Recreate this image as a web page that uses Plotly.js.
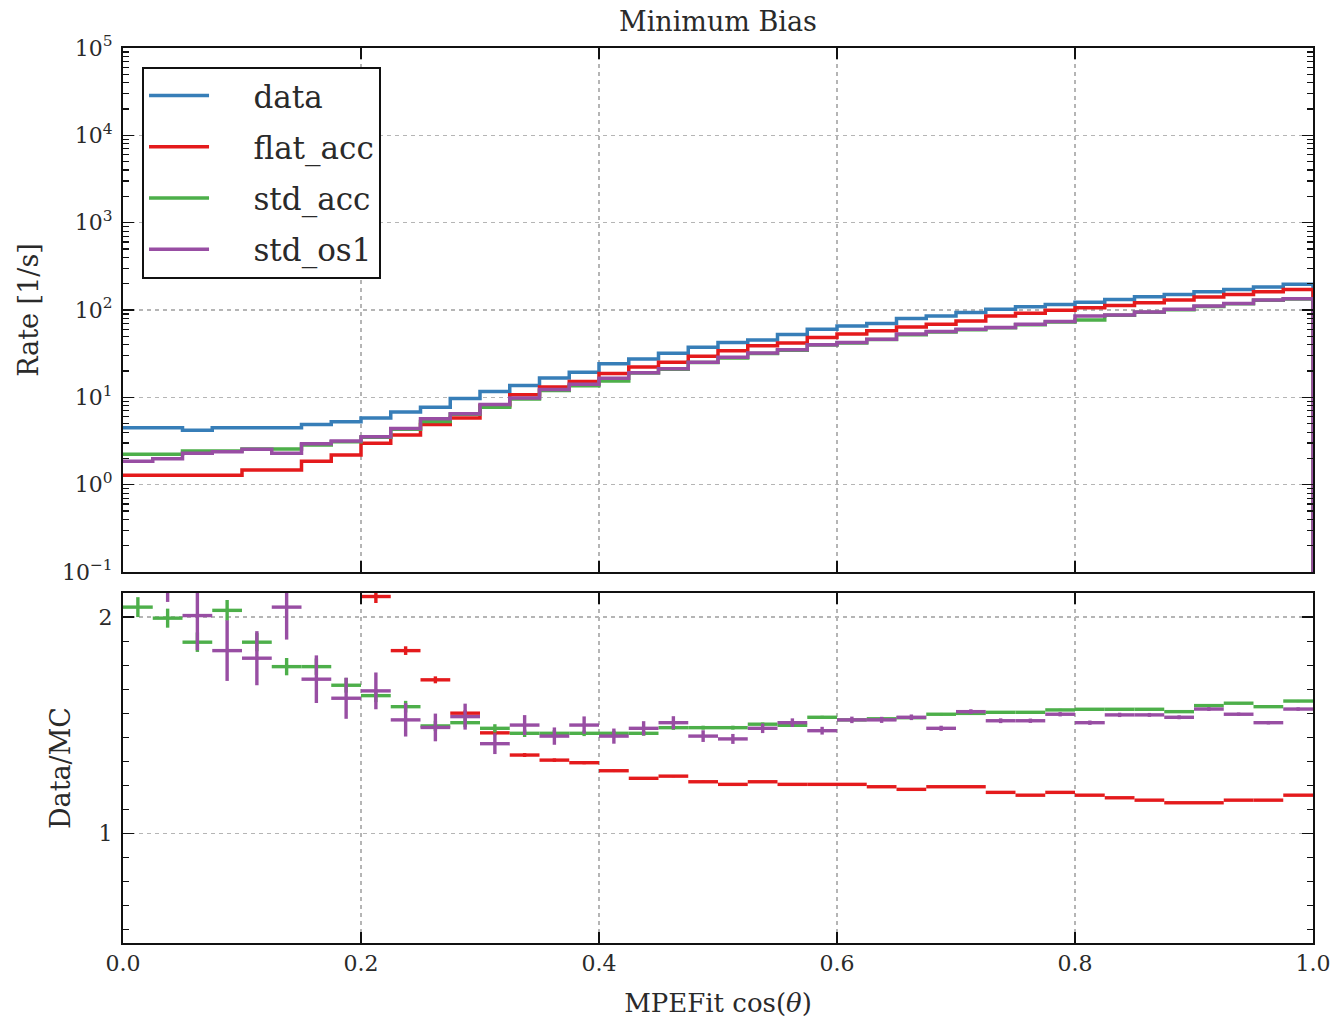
<!DOCTYPE html>
<html>
<head>
<meta charset="utf-8">
<script src="https://cdn.plot.ly/plotly-3.0.1.min.js"></script>
<style>
  html, body { margin: 0; padding: 0; background: #ffffff; }
  #chart { width: 1338px; height: 1024px; }
</style>
</head>
<body>
<div id="chart"></div>
<script>
// ---- data ----
const binEdges = [0.000,0.025,0.050,0.075,0.100,0.125,0.150,0.175,0.200,0.225,
                  0.250,0.275,0.300,0.325,0.350,0.375,0.400,0.425,0.450,0.475,
                  0.500,0.525,0.550,0.575,0.600,0.625,0.650,0.675,0.700,0.725,
                  0.750,0.775,0.800,0.825,0.850,0.875,0.900,0.925,0.950,0.975,1.000];

const seriesNames = ['data', 'flat_acc', 'std_acc', 'std_os1'];

// rates [1/s] per bin (40 bins)
const rateData = [4.5,4.5,4.2,4.5,4.5,4.5,4.9,5.25,5.8,6.8,
                  7.7,9.7,11.7,13.7,16.7,19.4,24.3,27.5,31.9,37.4,
                  42.6,45.3,52.5,60.3,65.8,70,79.8,85.5,93.4,101.8,
                  109,116,123,132,142,151,162,172,184,197];
const rateFlatAcc = [1.28,1.28,1.28,1.28,1.47,1.47,1.85,2.19,2.98,3.7,
                     4.9,5.8,8.0,10.7,13.1,15.2,18.7,22.2,25.2,29.5,
                     34.2,38.9,41.8,48.5,53,57.7,64.1,68.8,75,85.5,
                     91.7,99.2,106,113,121,130,141,151,162,172];
const rateStdAcc = [2.23,2.23,2.43,2.43,2.56,2.56,2.85,3.1,3.5,4.3,
                    5.3,6.4,7.7,9.6,12.0,13.6,15.4,19.0,21.0,25.0,
                    28.3,31.8,34.6,39.8,41.8,46.0,52.0,56.0,59.5,62.5,
                    68.0,73.0,77.0,87.0,94.0,101,110,118,129,134];
const rateStdOs1 = [1.85,1.98,2.29,2.39,2.54,2.29,2.95,3.16,3.55,4.4,
                    5.7,6.5,8.26,9.8,12.3,14.1,16.5,19.1,21.2,25.2,
                    28.8,32.2,35.1,40,42.6,46.4,53,56.8,60.3,63,
                    68.8,73.8,85.5,87.8,94.8,102,111,119,130,135];

// Data/MC ratios with uncertainties
const ratioFlatAcc = [3.5,3.5,3.3,3.5,3.1,3.1,2.65,2.4,2.095,1.845,
                      1.71,1.556,1.465,1.3625,1.339,1.327,1.29,1.255,1.265,1.239,
                      1.227,1.239,1.227,1.227,1.227,1.216,1.204,1.216,1.216,1.19,
                      1.177,1.19,1.177,1.165,1.154,1.142,1.142,1.154,1.154,1.177];
const errFlatAcc = [0.06,0.06,0.05,0.05,0.045,0.04,0.035,0.03,0.03,0.02,
                    0.016,0.013,0.011,0.009,0.008,0.007,0.006,0.006,0.005,0.005,
                    0.005,0.004,0.004,0.004,0.004,0.004,0.004,0.003,0.003,0.003,
                    0.003,0.003,0.003,0.003,0.003,0.003,0.003,0.003,0.003,0.003];
const ratioStdAcc = [2.046,1.995,1.884,2.031,1.884,1.771,1.771,1.685,1.637,1.586,
                     1.497,1.512,1.486,1.463,1.463,1.463,1.463,1.463,1.489,1.489,
                     1.489,1.505,1.5,1.537,1.525,1.53,1.535,1.551,1.555,1.56,
                     1.56,1.571,1.574,1.574,1.574,1.563,1.591,1.602,1.586,1.612];
const errStdAcc = [0.046,0.044,0.045,0.048,0.042,0.04,0.038,0.034,0.03,0.027,
                   0.024,0.021,0.019,0.017,0.015,0.013,0.012,0.011,0.01,0.009,
                   0.009,0.008,0.008,0.007,0.007,0.007,0.006,0.006,0.006,0.006,
                   0.005,0.005,0.005,0.005,0.005,0.005,0.005,0.005,0.005,0.005];
const ratioStdOs1 = [2.4,2.22,2.007,1.845,1.81,2.046,1.713,1.625,1.659,1.525,
                     1.49,1.54,1.415,1.501,1.45,1.501,1.45,1.486,1.512,1.45,
                     1.437,1.486,1.512,1.475,1.525,1.525,1.537,1.486,1.563,1.521,
                     1.521,1.551,1.512,1.548,1.548,1.537,1.575,1.551,1.512,1.575];
const errStdOs1 = [0.1,0.15,0.16,0.14,0.125,0.15,0.11,0.095,0.085,0.077,
                   0.064,0.06,0.048,0.046,0.04,0.04,0.035,0.033,0.03,0.027,
                   0.023,0.022,0.02,0.018,0.015,0.014,0.013,0.012,0.011,0.011,
                   0.01,0.01,0.01,0.01,0.009,0.009,0.009,0.008,0.008,0.008];

const rateTickVals = [0.1, 1, 10, 100, 1000, 10000, 100000];
const rateTickText = ['10<sup>−1</sup>','10<sup>0</sup>','10<sup>1</sup>','10<sup>2</sup>',
                      '10<sup>3</sup>','10<sup>4</sup>','10<sup>5</sup>'];
const ratioTickVals = [1, 2];
const ratioTickText = ['1', '2'];
const xTickVals = [0, 0.2, 0.4, 0.6, 0.8, 1.0];
const xTickText = ['0.0', '0.2', '0.4', '0.6', '0.8', '1.0'];

// ---- styling ----
const colors = ['#377eb8', '#e41a1c', '#4daf4a', '#984ea3'];
const FONT = 'DejaVu Serif, Liberation Serif, serif';
const TXT = '#2a2a2a';
const LEGEND_PAD = '\u00a0\u00a0\u00a0\u00a0';

const rates = [rateData, rateFlatAcc, rateStdAcc, rateStdOs1];
const ratios = [null, ratioFlatAcc, ratioStdAcc, ratioStdOs1];
const ratioErrs = [null, errFlatAcc, errStdAcc, errStdOs1];

const binWidth = binEdges[1] - binEdges[0];
const binCenters = binEdges.slice(0, -1).map((e, i) => (e + binEdges[i + 1]) / 2);
const FLOOR = 1e-4; // histogram step outline closes to zero at the right edge (below the axis range)

const traces = [];
rates.forEach((vals, s) => {
  const last = binEdges[binEdges.length - 1];
  const xs = binEdges.slice(0, -1).concat([last, last]);
  const ys = vals.concat([vals[vals.length - 1], FLOOR]);
  traces.push({
    type: 'scatter', mode: 'lines', name: LEGEND_PAD + seriesNames[s],
    x: xs, y: ys, xaxis: 'x2', yaxis: 'y2',
    line: { shape: 'hv', color: colors[s], width: 3.5 },
    legendgroup: seriesNames[s],
    hoverinfo: 'skip'
  });
});

[1, 2, 3].forEach(s => {
  traces.push({
    type: 'scatter', mode: 'markers', name: seriesNames[s], showlegend: false,
    legendgroup: seriesNames[s],
    x: binCenters, y: ratios[s], xaxis: 'x', yaxis: 'y',
    marker: { size: 1, color: colors[s], opacity: 0 },
    error_x: { type: 'constant', value: binWidth / 2, width: 0, thickness: 3.4, color: colors[s] },
    error_y: { type: 'data', array: ratioErrs[s], symmetric: true, width: 0, thickness: 3.4, color: colors[s] },
    hoverinfo: 'skip'
  });
});

// minor ticks for the log axis (2..9 per decade)
const logMinor = [];
for (let d = -1; d < 5; d++) for (let k = 2; k <= 9; k++) logMinor.push(k * Math.pow(10, d));

const gridStyle = { showgrid: true, gridcolor: '#b5b5b5', gridwidth: 1.3, griddash: '4px,4px' };
const axisLine = { showline: true, linecolor: '#111', linewidth: 2, mirror: 'allticks',
                   ticks: 'inside', ticklen: 11, tickwidth: 1.3, tickcolor: '#111', zeroline: false };

const layout = {
  width: 1338, height: 1024,
  paper_bgcolor: '#ffffff', plot_bgcolor: '#ffffff',
  margin: { l: 123, r: 25, t: 48, b: 81, pad: 0 },
  font: { family: FONT, color: TXT, size: 22 },
  showlegend: true,
  title: {
    text: 'Minimum Bias',
    font: { family: FONT, size: 27, color: TXT },
    x: 0.5366, xref: 'container', xanchor: 'center',
    y: 1 - 22 / 1024, yref: 'container', yanchor: 'middle'
  },
  xaxis: Object.assign({}, axisLine, gridStyle, {
    domain: [0, 1], anchor: 'y', range: [0, 1],
    tickmode: 'array', tickvals: xTickVals, ticktext: xTickText,
    tickfont: { family: FONT, size: 22, color: TXT },
    title: { text: 'MPEFit cos(<i>θ</i>)', font: { family: FONT, size: 26, color: TXT }, standoff: 18 }
  }),
  yaxis: Object.assign({}, axisLine, gridStyle, {
    domain: [0, 0.391], anchor: 'x', range: [0.494, 2.111],
    tickmode: 'array', tickvals: ratioTickVals, ticktext: ratioTickText,
    tickfont: { family: FONT, size: 22, color: TXT }, ticklabelstandoff: 4,
    minor: { tickmode: 'linear', tick0: 1, dtick: 1 / 9, ticks: 'inside', ticklen: 6, tickcolor: '#111', tickwidth: 1.2, showgrid: false },
    title: { text: 'Data/MC', font: { family: FONT, size: 27, color: TXT }, standoff: 20 }
  }),
  xaxis2: Object.assign({}, axisLine, gridStyle, {
    domain: [0, 1], anchor: 'y2', range: [0, 1], matches: 'x',
    tickmode: 'array', tickvals: xTickVals, ticktext: xTickText, showticklabels: false
  }),
  yaxis2: Object.assign({}, axisLine, gridStyle, {
    domain: [0.4145, 1], anchor: 'x2', type: 'log', range: [-1, 5],
    tickmode: 'array', tickvals: rateTickVals, ticktext: rateTickText,
    tickfont: { family: FONT, size: 22, color: TXT }, ticklabelstandoff: 4,
    minor: { tickmode: 'array', tickvals: logMinor, ticks: 'inside', ticklen: 6, tickcolor: '#111', tickwidth: 1.2, showgrid: false },
    title: { text: 'Rate [1/s]', font: { family: FONT, size: 27, color: TXT }, standoff: 15 }
  }),
  legend: {
    x: 0.016, y: 0.979, xref: 'paper', yref: 'paper', xanchor: 'left', yanchor: 'top',
    bgcolor: '#ffffff', bordercolor: '#111', borderwidth: 2,
    font: { family: FONT, size: 31, color: TXT },
    tracegroupgap: 8, itemwidth: 60,
    traceorder: 'grouped'
  }
};

Plotly.newPlot('chart', traces, layout, { displayModeBar: false, staticPlot: true });
</script>
</body>
</html>
